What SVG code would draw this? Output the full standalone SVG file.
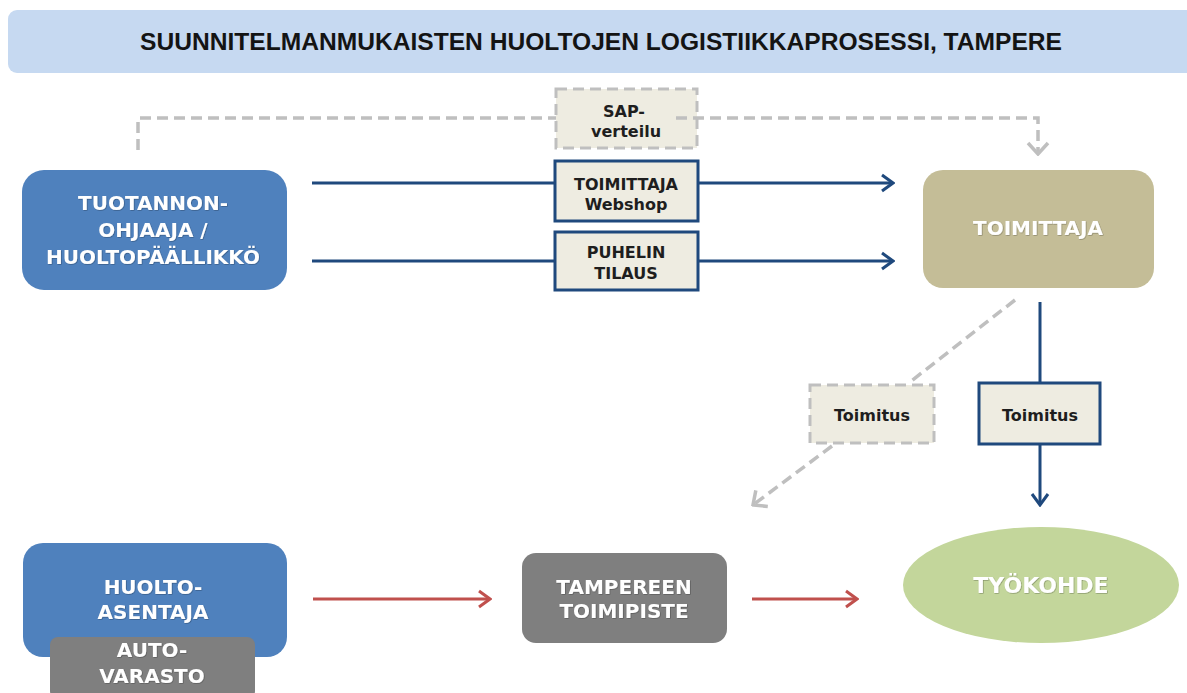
<svg xmlns="http://www.w3.org/2000/svg" width="1187" height="693" viewBox="0 0 1187 693">
  <style>
    .lbl { font-family: "DejaVu Sans", Verdana, sans-serif; font-weight: bold; text-anchor: middle; }
    .big { font-size: 20px; fill: #ffffff; }
    .small { font-size: 16px; fill: #1e1e1e; }
    .title { font-family: "Liberation Sans", Arial, sans-serif; font-weight: bold; font-size: 24px; fill: #141414; text-anchor: middle; }
    .memo { fill: #eeece1; stroke: #1f497d; stroke-width: 3; }
    .memo-dash { fill: #eeece1; stroke: #bfbfbf; stroke-width: 3; stroke-dasharray: 11 6; }
    .flow-blue { fill: none; stroke: #1f497d; stroke-width: 3; }
    .flow-gray { fill: none; stroke: #bfbfbf; stroke-width: 3.5; stroke-dasharray: 11 6; }
    .flow-red { fill: none; stroke: #c0504d; stroke-width: 3; }
  </style>
  <defs>
    <marker id="headBlue" markerUnits="userSpaceOnUse" viewBox="-14 -11 16 22" refX="0" refY="0" markerWidth="16" markerHeight="22" orient="auto">
      <path d="M-11,-8 L0,0 L-11,8" fill="none" stroke="#1f497d" stroke-width="3"/>
    </marker>
    <marker id="headRed" markerUnits="userSpaceOnUse" viewBox="-14 -11 16 22" refX="0" refY="0" markerWidth="16" markerHeight="22" orient="auto">
      <path d="M-11,-8 L0,0 L-11,8" fill="none" stroke="#c0504d" stroke-width="3"/>
    </marker>
    <marker id="headGray" markerUnits="userSpaceOnUse" viewBox="-14 -12 16 24" refX="0" refY="0" markerWidth="16" markerHeight="24" orient="auto">
      <path d="M-11,-10 L0,0 L-11,10" fill="none" stroke="#bfbfbf" stroke-width="3.5"/>
    </marker>
    <filter id="glow" x="-10%" y="-30%" width="120%" height="160%">
      <feDropShadow dx="0.6" dy="0.6" stdDeviation="0.6" flood-color="#000000" flood-opacity="0.35"/>
    </filter>
  </defs>

  <!-- header -->
  <g id="header">
    <rect x="8" y="10" width="1200" height="63" rx="9" fill="#c6d9f1"/>
    <text class="title" x="601" y="50" textLength="922" lengthAdjust="spacingAndGlyphs">SUUNNITELMANMUKAISTEN HUOLTOJEN LOGISTIIKKAPROSESSI, TAMPERE</text>
  </g>

  <!-- ordering party -->
  <g id="tuotannonohjaaja">
    <rect x="22" y="170" width="265" height="120" rx="22" fill="#4f81bd"/>
    <g class="lbl big" filter="url(#glow)">
      <text x="153" y="210">TUOTANNON-</text>
      <text x="153" y="237">OHJAAJA /</text>
      <text x="153" y="264">HUOLTOPÄÄLLIKKÖ</text>
    </g>
  </g>

  <!-- supplier -->
  <g id="toimittaja">
    <rect x="923" y="170" width="231" height="118" rx="20" fill="#c4bd97"/>
    <text class="lbl big" x="1038" y="235" filter="url(#glow)">TOIMITTAJA</text>
  </g>

  <!-- channel labels -->
  <g id="sap-verteilu">
    <rect class="memo-dash" x="556" y="89" width="141" height="59"/>
    <text class="lbl small" x="624" y="117">SAP-</text>
    <text class="lbl small" x="626" y="137">verteilu</text>
  </g>
  <g id="webshop">
    <rect class="memo" x="555" y="161" width="143" height="60"/>
    <text class="lbl small" x="626" y="190">TOIMITTAJA</text>
    <text class="lbl small" x="626" y="210">Webshop</text>
  </g>
  <g id="puhelintilaus">
    <rect class="memo" x="555" y="232" width="143" height="58"/>
    <text class="lbl small" x="626" y="258">PUHELIN</text>
    <text class="lbl small" x="626" y="279">TILAUS</text>
  </g>
  <g id="toimitus-varasto">
    <rect class="memo-dash" x="810" y="385" width="124" height="58"/>
    <text class="lbl small" x="872" y="421">Toimitus</text>
  </g>
  <g id="toimitus-kohde">
    <rect class="memo" x="979" y="383" width="121" height="61"/>
    <text class="lbl small" x="1040" y="421">Toimitus</text>
  </g>

  <!-- field technician with van stock -->
  <g id="huoltoasentaja">
    <rect x="23" y="543" width="264" height="114" rx="20" fill="#4f81bd"/>
    <g class="lbl big" filter="url(#glow)">
      <text x="153" y="594">HUOLTO-</text>
      <text x="153" y="619">ASENTAJA</text>
    </g>
  </g>
  <g id="autovarasto">
    <rect x="50" y="637" width="205" height="62" rx="8" fill="#7f7f7f"/>
    <g class="lbl big" filter="url(#glow)">
      <text x="152" y="657">AUTO-</text>
      <text x="152" y="683">VARASTO</text>
    </g>
  </g>

  <!-- Tampere office -->
  <g id="tampereen-toimipiste">
    <rect x="522" y="553" width="205" height="90" rx="14" fill="#7f7f7f"/>
    <g class="lbl big" filter="url(#glow)">
      <text x="624" y="594">TAMPEREEN</text>
      <text x="624" y="618">TOIMIPISTE</text>
    </g>
  </g>

  <!-- work site -->
  <g id="tyokohde">
    <ellipse cx="1041" cy="585" rx="138" ry="58" fill="#c3d69b"/>
    <text class="lbl big" x="1041" y="593" style="font-size:22px" filter="url(#glow)">TYÖKOHDE</text>
  </g>

  <!-- connectors -->
  <g id="connectors">
    <path class="flow-gray" d="M138,150 V118 H556"/>
    <path class="flow-gray" d="M676,118 H1038 V154" marker-end="url(#headGray)"/>
    <path class="flow-blue" d="M312,183 H555"/>
    <path class="flow-blue" d="M698,183 H893" marker-end="url(#headBlue)"/>
    <path class="flow-blue" d="M312,261 H555"/>
    <path class="flow-blue" d="M698,261 H893" marker-end="url(#headBlue)"/>
    <path class="flow-blue" d="M1040,302 V383"/>
    <path class="flow-blue" d="M1040,444 V505" marker-end="url(#headBlue)"/>
    <path class="flow-gray" d="M1015,300 L910,382"/>
    <path class="flow-gray" d="M832,446 L753,505" marker-end="url(#headGray)"/>
    <path class="flow-red" d="M313,599 H490" marker-end="url(#headRed)"/>
    <path class="flow-red" d="M752,599 H857" marker-end="url(#headRed)"/>
  </g>
</svg>
